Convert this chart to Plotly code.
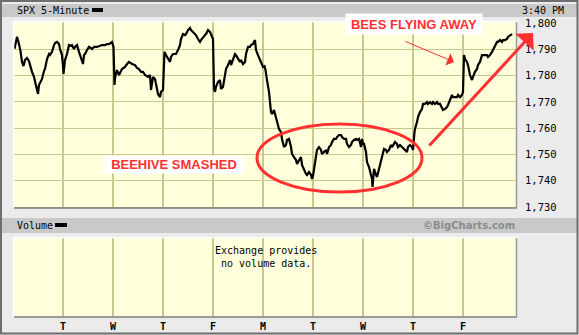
import plotly.graph_objects as go

# ---------------- data ----------------
day_ticks = [1, 2, 3, 4, 5, 6, 7, 8, 9]
day_labels = ["T", "W", "T", "F", "M", "T", "W", "T", "F"]
price_ticks = [1730, 1740, 1750, 1760, 1770, 1780, 1790, 1800]

# time in trading days (0 = first session open), SPX 5-minute closes
t_day = [
    0.03, 0.08, 0.11, 0.15, 0.18, 0.21, 0.24, 0.28, 0.32, 0.34, 0.38, 0.42, 0.44, 0.48, 0.50,
    0.52, 0.54, 0.58, 0.62, 0.64, 0.68, 0.72, 0.74, 0.78, 0.82, 0.84, 0.88, 0.92, 0.94, 0.98, 1.00, 1.01,
    1.04, 1.08, 1.12, 1.16, 1.18, 1.22, 1.24, 1.28, 1.32, 1.34, 1.38, 1.40, 1.42, 1.44, 1.48, 1.52,
    1.58, 1.62, 1.68, 1.72, 1.78, 1.84, 1.88, 1.92, 1.98, 2.01,
    2.03, 2.04, 2.08, 2.12, 2.18, 2.24, 2.28, 2.32, 2.38, 2.44, 2.48, 2.52, 2.56, 2.60, 2.64, 2.70,
    2.74, 2.76, 2.80, 2.84, 2.86, 2.90, 2.94, 2.96, 3.00,
    3.03, 3.06, 3.10, 3.14, 3.16, 3.20, 3.24, 3.26, 3.30, 3.34, 3.36, 3.40, 3.44, 3.46, 3.50, 3.54,
    3.56, 3.60, 3.64, 3.66, 3.70, 3.74, 3.76, 3.80, 3.84, 3.86, 3.90, 3.94, 3.96, 4.00,
    4.02, 4.04, 4.06, 4.10, 4.14, 4.16, 4.20, 4.24, 4.26, 4.30, 4.34, 4.36, 4.40, 4.44, 4.46, 4.50,
    4.54, 4.56, 4.60, 4.64, 4.66, 4.70, 4.74, 4.76, 4.80, 4.84, 4.86, 4.90, 4.94, 4.96, 5.00,
    5.03, 5.05, 5.08, 5.12, 5.16, 5.18, 5.22, 5.26, 5.28, 5.32, 5.36, 5.38, 5.42, 5.46, 5.48, 5.52,
    5.56, 5.58, 5.62, 5.66, 5.68, 5.72, 5.76, 5.78, 5.82, 5.86, 5.88, 5.92, 5.96, 5.98, 6.00,
    6.02, 6.06, 6.08, 6.12, 6.16, 6.18, 6.22, 6.26, 6.28, 6.32, 6.36, 6.38, 6.42, 6.46, 6.48, 6.52,
    6.56, 6.58, 6.62, 6.66, 6.68, 6.72, 6.76, 6.78, 6.82, 6.86, 6.88, 6.92, 6.96, 6.98, 7.00,
    7.02, 7.06, 7.08, 7.12, 7.16, 7.18, 7.19, 7.22, 7.26, 7.28, 7.32, 7.36, 7.38, 7.42, 7.46, 7.48,
    7.52, 7.56, 7.58, 7.64, 7.68, 7.70, 7.74, 7.78, 7.80, 7.84, 7.88, 7.90, 7.94, 7.98, 8.00,
    8.03, 8.04, 8.08, 8.10, 8.14, 8.18, 8.20, 8.24, 8.28, 8.30, 8.34, 8.38, 8.40, 8.44, 8.48, 8.50,
    8.54, 8.58, 8.60, 8.64, 8.68, 8.70, 8.74, 8.78, 8.80, 8.84, 8.88, 8.90, 8.94, 8.98, 9.00,
    9.02, 9.04, 9.08, 9.10, 9.14, 9.18, 9.20, 9.24, 9.28, 9.30, 9.34, 9.38, 9.40, 9.44, 9.48, 9.50,
    9.54, 9.58, 9.60, 9.64, 9.68, 9.70, 9.74, 9.78, 9.80, 9.84, 9.88, 9.90, 9.94, 9.98,
]
spx = [
    1790.2, 1794.7, 1792.8, 1789.3, 1785.2, 1783.6, 1785.9, 1786.7, 1785.5, 1784.0, 1781.4, 1779.5, 1777.6, 1774.5, 1773.0,
    1776.4, 1777.2, 1778.7, 1781.7, 1782.5, 1786.3, 1788.2, 1787.8, 1789.0, 1791.6, 1792.4, 1792.8, 1792.0, 1790.1, 1787.8, 1783.6, 1780.6,
    1785.9, 1788.2, 1791.6, 1791.3, 1791.6, 1790.1, 1790.9, 1791.6, 1789.0, 1787.8, 1785.5, 1784.4, 1787.8, 1788.2, 1789.7, 1790.9,
    1790.1, 1790.9, 1790.9, 1791.3, 1791.6, 1791.6, 1792.0, 1792.0, 1792.8, 1790.9,
    1776.4, 1779.1, 1782.1, 1780.2, 1782.5, 1783.3, 1784.4, 1785.2, 1784.4, 1784.0, 1782.9, 1782.5, 1781.4, 1781.4, 1780.2, 1779.5,
    1780.2, 1774.5, 1779.5, 1778.7, 1776.8, 1773.0, 1771.8, 1773.8, 1774.5,
    1789.0, 1787.8, 1786.3, 1785.2, 1787.1, 1788.2, 1788.2, 1788.2, 1789.7, 1791.6, 1793.9, 1795.8, 1795.4, 1795.8, 1797.3, 1798.1,
    1797.3, 1796.6, 1795.8, 1795.4, 1793.9, 1792.8, 1793.5, 1794.7, 1795.4, 1795.8, 1797.3, 1796.6, 1795.4, 1793.9,
    1774.9, 1773.8, 1775.7, 1777.6, 1778.3, 1774.9, 1775.7, 1779.5, 1782.5, 1784.0, 1785.9, 1784.0, 1786.3, 1788.2, 1787.8, 1786.3,
    1785.2, 1785.9, 1784.4, 1785.2, 1788.2, 1790.9, 1790.9, 1791.6, 1792.0, 1793.5, 1789.7, 1787.8, 1785.9, 1785.2, 1783.3,
    1783.6, 1782.1, 1778.3, 1773.8, 1766.1, 1765.4, 1766.9, 1763.5, 1762.3, 1759.7, 1758.5, 1755.9, 1752.8, 1753.6, 1755.5, 1755.9,
    1752.8, 1750.2, 1749.0, 1747.9, 1746.4, 1747.9, 1749.0, 1746.0, 1744.1, 1742.6, 1742.2, 1743.3, 1742.2, 1740.7, 1741.8,
    1744.5, 1749.0, 1751.7, 1752.8, 1751.7, 1750.2, 1750.9, 1751.7, 1750.2, 1752.8, 1753.6, 1754.7, 1755.9, 1755.9, 1756.6, 1757.4,
    1757.4, 1756.6, 1755.9, 1755.9, 1754.0, 1752.8, 1753.6, 1754.7, 1755.5, 1755.9, 1755.5, 1755.9, 1752.8, 1755.9, 1754.0,
    1754.0, 1750.9, 1747.1, 1745.2, 1742.2, 1740.7, 1737.6, 1744.5, 1742.2, 1741.4, 1744.5, 1747.9, 1749.0, 1752.1, 1751.7, 1750.9,
    1751.7, 1753.6, 1752.8, 1754.7, 1754.0, 1752.8, 1753.6, 1752.8, 1752.1, 1751.7, 1750.9, 1752.8, 1753.6, 1752.8, 1751.7,
    1758.5, 1759.7, 1762.3, 1764.2, 1766.1, 1767.3, 1769.2, 1769.2, 1769.9, 1769.2, 1769.9, 1769.2, 1769.9, 1769.2, 1769.9, 1769.2,
    1769.2, 1768.0, 1766.9, 1767.3, 1768.0, 1768.8, 1770.7, 1772.6, 1771.8, 1771.8, 1771.8, 1772.6, 1771.8, 1772.6, 1773.8,
    1787.8, 1786.3, 1785.2, 1784.0, 1780.2, 1778.3, 1779.5, 1781.4, 1782.5, 1784.0, 1785.2, 1787.8, 1787.8, 1787.8, 1787.8, 1787.1,
    1787.8, 1789.0, 1789.7, 1791.6, 1792.8, 1792.8, 1793.5, 1792.8, 1793.5, 1793.5, 1793.9, 1794.7, 1795.4, 1795.8,
]

# annotation anchors (data space)
ellipse_t = [4.88, 8.18]
ellipse_p = [1735.7, 1761.6]
thin_arrow_tail = (7.82, 1793.2)
thin_arrow_tip = (8.82, 1785.2)

# ---------------- layout helpers (pixel -> paper) ----------------
W, H = 579, 335
L, R, T, B = 14, 516, 22, 317


def px(x):
    return (x - L) / (R - L)


def py(y):
    return (B - y) / (B - T)


RED = "#ff3030"
GRID = "#c9c98f"
PLOTBG = "#ffffdc"
PAPER = "#ebebeb"
BAND = "#c9c9c9"
MONO = "DejaVu Sans Mono"

fig = go.Figure()
fig.add_trace(go.Scatter(x=t_day, y=spx, mode="lines",
                         line=dict(color="black", width=2.2),
                         xaxis="x", yaxis="y", hoverinfo="skip", showlegend=False))
fig.add_trace(go.Scatter(x=[None], y=[None], xaxis="x2", yaxis="y2",
                         hoverinfo="skip", showlegend=False))

xr = [(L - 13) / 50, (R - 13) / 50]

fig.update_layout(
    width=W, height=H,
    margin=dict(l=L, r=W - R, t=T, b=H - B, pad=0, autoexpand=False),
    paper_bgcolor=PAPER, plot_bgcolor=PLOTBG,
    showlegend=False,
    xaxis=dict(domain=[0, 1], anchor="y", range=xr, tickvals=day_ticks,
               showticklabels=False, ticks="", showgrid=True, gridcolor=GRID,
               gridwidth=2, zeroline=False, showline=False, automargin=False),
    yaxis=dict(domain=[py(208), 1], anchor="x", side="right",
               range=[1729.62, 1800.38], tickvals=price_ticks, tickformat=",",
               ticks="", showgrid=True, gridcolor=GRID, gridwidth=1,
               zeroline=False, showline=False, automargin=False,
               tickfont=dict(family=MONO, size=10.5, color="black"),
               ticklabelstandoff=8),
    xaxis2=dict(domain=[0, 1], anchor="y2", range=xr, tickvals=day_ticks,
                ticktext=["<b>%s</b>" % d for d in day_labels], ticks="",
                showgrid=True, gridcolor=GRID, gridwidth=2, zeroline=False,
                showline=False, automargin=False,
                tickfont=dict(family=MONO, size=10, color="black"),
                ticklabelstandoff=2),
    yaxis2=dict(domain=[0, py(238)], anchor="x2", range=[0, 1], automargin=False,
                showticklabels=False, showgrid=False, zeroline=False, ticks=""),
)

shapes = []
# header bands
for (y0, y1) in [(4, 17), (218, 233)]:
    shapes.append(dict(type="rect", xref="paper", yref="paper",
                       x0=px(2), x1=px(577), y0=py(y1), y1=py(y0),
                       fillcolor=BAND, line=dict(width=0), layer="below"))
# legend swatches
for (x0, x1, y0, y1) in [(92, 103, 8, 12), (55, 67, 223, 227)]:
    shapes.append(dict(type="rect", xref="paper", yref="paper",
                       x0=px(x0), x1=px(x1), y0=py(y1), y1=py(y0),
                       fillcolor="black", line=dict(width=0), layer="above"))
# bevel borders of the two panels
for (top, bot) in [(22, 208), (238, 317)]:
    shapes.append(dict(type="line", xref="paper", yref="paper",
                       x0=px(13), x1=px(517), y0=py(top - 0.5), y1=py(top - 0.5),
                       line=dict(color="white", width=1.5)))
    shapes.append(dict(type="line", xref="paper", yref="paper",
                       x0=px(13.5), x1=px(13.5), y0=py(bot), y1=py(top),
                       line=dict(color="white", width=1.5)))
    shapes.append(dict(type="line", xref="paper", yref="paper",
                       x0=px(14), x1=px(517), y0=py(bot), y1=py(bot),
                       line=dict(color="#7d7d7d", width=1.5)))
    shapes.append(dict(type="line", xref="paper", yref="paper",
                       x0=px(516.5), x1=px(516.5), y0=py(bot), y1=py(top),
                       line=dict(color="#9a9a9a", width=1.5)))
# outer frame
shapes.append(dict(type="rect", xref="paper", yref="paper",
                   x0=px(1), x1=px(577.5), y0=py(333.5), y1=py(1),
                   line=dict(color="#6e6e6e", width=2), fillcolor="rgba(0,0,0,0)"))
# beehive ellipse
shapes.append(dict(type="circle", xref="x", yref="y",
                   x0=ellipse_t[0], x1=ellipse_t[1], y0=ellipse_p[0], y1=ellipse_p[1],
                   line=dict(color=RED, width=3), layer="above"))
fig.update_layout(shapes=shapes)

ann = [
    dict(text="SPX 5-Minute", x=px(15), y=py(10.5), xref="paper", yref="paper",
         xanchor="left", yanchor="middle", showarrow=False,
         font=dict(family=MONO, size=10, color="black")),
    dict(text="3:40 PM", x=px(566), y=py(10.5), xref="paper", yref="paper",
         xanchor="right", yanchor="middle", showarrow=False,
         font=dict(family=MONO, size=10, color="black")),
    dict(text="Volume", x=px(15), y=py(225.5), xref="paper", yref="paper",
         xanchor="left", yanchor="middle", showarrow=False,
         font=dict(family=MONO, size=10, color="black")),
    dict(text="<b>©BigCharts.com</b>", x=px(517), y=py(225.5), xref="paper", yref="paper",
         xanchor="right", yanchor="middle", showarrow=False,
         font=dict(family="DejaVu Sans", size=10, color="#8c8c8c")),
    dict(text="Exchange provides<br> no volume data.", x=px(266), y=py(257),
         xref="paper", yref="paper", xanchor="center", yanchor="middle",
         showarrow=False, align="left",
         font=dict(family=MONO, size=10, color="black")),
    dict(text="<b>BEEHIVE SMASHED</b>", x=px(174), y=py(164.5), xref="paper", yref="paper",
         xanchor="center", yanchor="middle", showarrow=False, bgcolor="white",
         width=140, height=17, borderpad=0,
         font=dict(family="Liberation Sans", size=13, color=RED)),
    dict(text="<b>BEES FLYING AWAY</b>", x=px(414), y=py(23.5), xref="paper", yref="paper",
         xanchor="center", yanchor="middle", showarrow=False, bgcolor="white",
         width=136, height=20, borderpad=0,
         font=dict(family="Liberation Sans", size=13, color=RED)),
    dict(text="", x=thin_arrow_tip[0], y=thin_arrow_tip[1], xref="x", yref="y",
         ax=thin_arrow_tail[0], ay=thin_arrow_tail[1], axref="x", ayref="y",
         showarrow=True, arrowhead=1, arrowsize=2.2, arrowwidth=1, arrowcolor=RED),
    dict(text="", x=px(533), y=py(33), xref="paper", yref="paper",
         ax=-105, ay=114, showarrow=True, arrowhead=1, arrowsize=1.4,
         arrowwidth=3, arrowcolor=RED),
]
fig.update_layout(annotations=ann)

fig.write_html("out.html")
